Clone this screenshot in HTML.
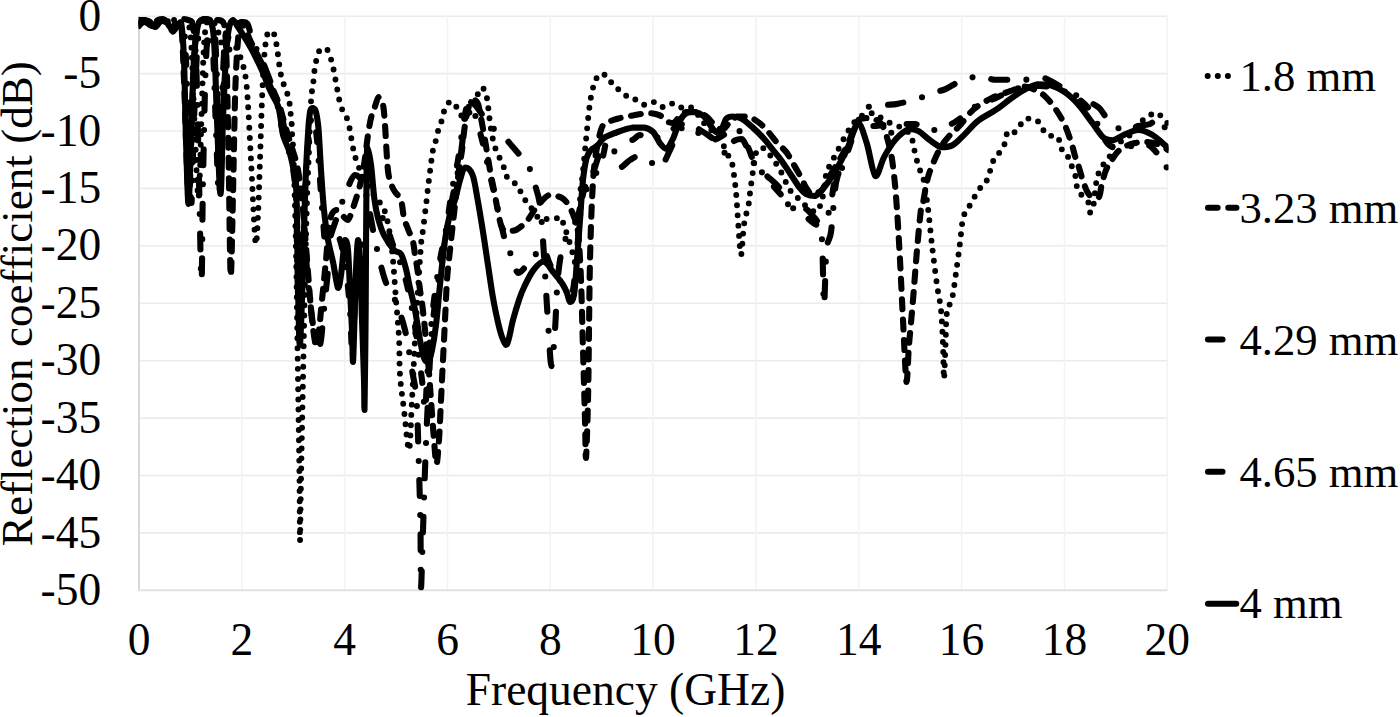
<!DOCTYPE html>
<html><head><meta charset="utf-8"><style>
html,body{margin:0;padding:0;background:#fff;}
svg{display:block;}
text{font-family:"Liberation Serif",serif;font-size:45.5px;fill:#000;}
.lg{font-size:44.7px;}
.yt{font-size:45.1px;}
</style></head><body>
<svg width="1400" height="717" viewBox="0 0 1400 717">
<rect width="1400" height="717" fill="#fff"/>
<line x1="139.0" y1="16.2" x2="1167.3" y2="16.2" stroke="#ebebeb" stroke-width="1.6"/>
<line x1="139.0" y1="73.6" x2="1167.3" y2="73.6" stroke="#ebebeb" stroke-width="1.6"/>
<line x1="139.0" y1="131.0" x2="1167.3" y2="131.0" stroke="#ebebeb" stroke-width="1.6"/>
<line x1="139.0" y1="188.4" x2="1167.3" y2="188.4" stroke="#ebebeb" stroke-width="1.6"/>
<line x1="139.0" y1="245.8" x2="1167.3" y2="245.8" stroke="#ebebeb" stroke-width="1.6"/>
<line x1="139.0" y1="303.2" x2="1167.3" y2="303.2" stroke="#ebebeb" stroke-width="1.6"/>
<line x1="139.0" y1="360.7" x2="1167.3" y2="360.7" stroke="#ebebeb" stroke-width="1.6"/>
<line x1="139.0" y1="418.1" x2="1167.3" y2="418.1" stroke="#ebebeb" stroke-width="1.6"/>
<line x1="139.0" y1="475.5" x2="1167.3" y2="475.5" stroke="#ebebeb" stroke-width="1.6"/>
<line x1="139.0" y1="532.9" x2="1167.3" y2="532.9" stroke="#ebebeb" stroke-width="1.6"/>
<line x1="241.8" y1="16.2" x2="241.8" y2="590.3" stroke="#f3f3f3" stroke-width="1.6"/>
<line x1="344.7" y1="16.2" x2="344.7" y2="590.3" stroke="#f3f3f3" stroke-width="1.6"/>
<line x1="447.5" y1="16.2" x2="447.5" y2="590.3" stroke="#f3f3f3" stroke-width="1.6"/>
<line x1="550.3" y1="16.2" x2="550.3" y2="590.3" stroke="#f3f3f3" stroke-width="1.6"/>
<line x1="653.1" y1="16.2" x2="653.1" y2="590.3" stroke="#f3f3f3" stroke-width="1.6"/>
<line x1="756.0" y1="16.2" x2="756.0" y2="590.3" stroke="#f3f3f3" stroke-width="1.6"/>
<line x1="858.8" y1="16.2" x2="858.8" y2="590.3" stroke="#f3f3f3" stroke-width="1.6"/>
<line x1="961.6" y1="16.2" x2="961.6" y2="590.3" stroke="#f3f3f3" stroke-width="1.6"/>
<line x1="1064.5" y1="16.2" x2="1064.5" y2="590.3" stroke="#f3f3f3" stroke-width="1.6"/>
<line x1="1167.3" y1="16.2" x2="1167.3" y2="590.3" stroke="#f3f3f3" stroke-width="1.6"/>
<line x1="139.0" y1="16.2" x2="139.0" y2="590.3" stroke="#d8d8d8" stroke-width="2"/>
<line x1="138.0" y1="590.3" x2="1167.3" y2="590.3" stroke="#e2e2e2" stroke-width="2"/>
<text x="101.2" y="30.8" text-anchor="end">0</text>
<text x="101.2" y="88.2" text-anchor="end">-5</text>
<text x="101.2" y="145.6" text-anchor="end">-10</text>
<text x="101.2" y="203.0" text-anchor="end">-15</text>
<text x="101.2" y="260.4" text-anchor="end">-20</text>
<text x="101.2" y="317.8" text-anchor="end">-25</text>
<text x="101.2" y="375.3" text-anchor="end">-30</text>
<text x="101.2" y="432.7" text-anchor="end">-35</text>
<text x="101.2" y="490.1" text-anchor="end">-40</text>
<text x="101.2" y="547.5" text-anchor="end">-45</text>
<text x="101.2" y="604.9" text-anchor="end">-50</text>
<text x="139.0" y="655" text-anchor="middle">0</text>
<text x="241.8" y="655" text-anchor="middle">2</text>
<text x="344.7" y="655" text-anchor="middle">4</text>
<text x="447.5" y="655" text-anchor="middle">6</text>
<text x="550.3" y="655" text-anchor="middle">8</text>
<text x="653.1" y="655" text-anchor="middle">10</text>
<text x="756.0" y="655" text-anchor="middle">12</text>
<text x="858.8" y="655" text-anchor="middle">14</text>
<text x="961.6" y="655" text-anchor="middle">16</text>
<text x="1064.5" y="655" text-anchor="middle">18</text>
<text x="1167.3" y="655" text-anchor="middle">20</text>
<text x="625.5" y="705.4" text-anchor="middle">Frequency (GHz)</text>
<text class="yt" transform="translate(31.8,303.7) rotate(-90)" text-anchor="middle">Reflection coefficient (dB)</text>
<text class="lg" x="1239.4" y="90.8">1.8 mm</text>
<text class="lg" x="1239.4" y="222.7">3.23 mm</text>
<text class="lg" x="1239.4" y="354.6">4.29 mm</text>
<text class="lg" x="1239.4" y="486.5">4.65 mm</text>
<text class="lg" x="1239.4" y="618.4">4 mm</text>
<circle cx="1207.7" cy="76.1" r="3"/><circle cx="1217.8" cy="76.1" r="3"/><circle cx="1227.9" cy="76.1" r="3"/>
<line x1="1208" y1="207.7" x2="1217.6" y2="207.7" stroke="#000" stroke-width="6.1" stroke-linecap="round"/>
<line x1="1228.3" y1="207.7" x2="1236.4" y2="207.7" stroke="#000" stroke-width="6.1" stroke-linecap="round"/>
<line x1="1208" y1="339.5" x2="1222.5" y2="339.5" stroke="#000" stroke-width="6.1" stroke-linecap="round"/>
<line x1="1208" y1="471.8" x2="1222.5" y2="471.8" stroke="#000" stroke-width="6.1" stroke-linecap="round"/>
<line x1="1208" y1="603.7" x2="1236.2" y2="603.7" stroke="#000" stroke-width="6.1" stroke-linecap="round"/>
<defs><clipPath id="pc"><rect x="138.6" y="0" width="1029.9" height="600"/></clipPath></defs><g clip-path="url(#pc)">
<path d="M139.0,23.0 C140.2,22.8 143.3,22.0 146.0,22.0 C148.7,22.8 152.5,28.0 155.0,28.0 C157.5,27.8 158.8,22.2 161.0,21.0 C163.2,21.0 166.2,21.0 168.0,21.0 C169.8,22.8 170.5,31.0 172.0,32.0 C173.5,32.0 175.2,28.7 177.0,27.0 C178.8,25.3 181.5,22.0 183.0,22.0 C184.5,27.5 185.0,38.7 186.0,60.0 C187.0,81.3 188.1,126.2 189.0,150.0 C189.9,173.8 190.7,203.0 191.5,203.0 C192.3,198.0 192.9,147.2 194.0,120.0 C195.1,92.8 196.3,56.8 198.0,40.0 C199.7,23.2 202.0,22.2 204.0,19.0 C206.0,19.0 208.5,19.0 210.0,21.0 C211.5,26.2 212.0,31.8 213.0,50.0 C214.0,68.2 215.0,105.8 216.0,130.0 C217.0,154.2 218.0,195.0 219.0,195.0 C220.0,195.0 221.0,152.5 222.0,130.0 C223.0,107.5 223.8,75.8 225.0,60.0 C226.2,44.2 227.5,40.0 229.0,35.0 C230.5,30.0 232.5,31.8 234.0,30.0 C235.5,28.2 236.8,25.3 238.0,24.0 C239.2,22.7 240.1,22.0 241.3,22.0 C242.5,23.3 243.6,28.3 245.0,32.0 C246.4,35.7 248.2,40.2 250.0,44.0 C251.8,47.8 254.0,51.3 256.0,55.0 C258.0,58.7 260.3,62.5 262.0,66.0 C263.7,69.5 264.5,72.3 266.0,76.0 C267.5,79.7 269.3,84.0 271.0,88.0 C272.7,92.0 274.7,96.0 276.0,100.0 C277.3,104.0 278.2,108.0 279.0,112.0 C279.8,116.0 280.2,120.0 281.0,124.0 C281.8,128.0 282.8,132.0 284.0,136.0 C285.2,140.0 286.8,144.0 288.0,148.0 C289.2,152.0 290.1,156.0 291.0,160.0 C291.9,164.0 292.8,167.0 293.5,172.0 C294.2,177.0 294.9,182.0 295.5,190.0 C296.1,198.0 296.6,205.0 297.0,220.0 C297.4,235.0 297.6,262.5 298.0,280.0 C298.4,297.5 298.8,325.0 299.5,325.0 C300.2,321.7 301.1,282.5 302.0,260.0 C302.9,237.5 304.0,209.2 305.0,190.0 C306.0,170.8 307.0,156.7 308.0,145.0 C309.0,133.3 310.0,124.5 311.0,120.0 C312.0,118.0 313.0,118.0 314.0,118.0 C315.0,121.3 316.0,129.7 317.0,140.0 C318.0,150.3 319.0,166.7 320.0,180.0 C321.0,193.3 322.0,209.2 323.0,220.0 C324.0,230.8 324.3,243.3 326.0,245.0 C327.7,245.0 330.7,230.8 333.0,230.0 C335.3,230.0 337.8,233.3 340.0,240.0 C342.2,246.7 344.3,258.3 346.0,270.0 C347.7,281.7 349.0,296.7 350.0,310.0 C351.0,323.3 351.3,348.3 352.0,350.0 C352.7,350.0 353.0,333.3 354.0,320.0 C355.0,306.7 356.3,283.3 358.0,270.0 C359.7,256.7 362.0,249.2 364.0,240.0 C366.0,230.8 367.7,219.7 370.0,215.0 C372.3,212.0 375.3,212.0 378.0,212.0 C380.7,213.7 383.5,219.5 386.0,225.0 C388.5,230.5 390.7,238.8 393.0,245.0 C395.3,251.2 397.7,255.3 400.0,262.0 C402.3,268.7 404.7,275.3 407.0,285.0 C409.3,294.7 412.2,309.2 414.0,320.0 C415.8,330.8 416.7,340.0 418.0,350.0 C419.3,360.0 420.8,370.0 422.0,380.0 C423.2,390.0 424.2,410.0 425.0,410.0 C425.8,410.0 426.2,391.7 427.0,380.0 C427.8,368.3 428.8,353.3 430.0,340.0 C431.2,326.7 432.3,313.3 434.0,300.0 C435.7,286.7 438.0,271.7 440.0,260.0 C442.0,248.3 444.0,241.7 446.0,230.0 C448.0,218.3 450.0,201.7 452.0,190.0 C454.0,178.3 456.0,171.7 458.0,160.0 C460.0,148.3 462.3,129.2 464.0,120.0 C465.7,110.8 466.3,106.3 468.0,105.0 C469.7,105.0 471.7,106.2 474.0,112.0 C476.3,117.8 479.3,129.5 482.0,140.0 C484.7,150.5 487.3,163.3 490.0,175.0 C492.7,186.7 495.5,199.2 498.0,210.0 C500.5,220.8 502.8,232.5 505.0,240.0 C507.2,247.5 508.8,249.5 511.0,255.0 C513.2,260.5 515.3,271.3 518.0,273.0 C520.7,273.0 524.2,268.0 527.0,265.0 C529.8,262.0 532.3,257.8 535.0,255.0 C537.7,252.2 540.7,248.0 543.0,248.0 C545.3,249.2 547.0,257.5 549.0,262.0 C551.0,266.5 552.8,271.5 555.0,275.0 C557.2,278.5 559.8,280.2 562.0,283.0 C564.2,285.8 566.2,290.8 568.0,292.0 C569.8,292.0 571.5,292.0 573.0,290.0 C574.5,283.0 575.5,265.0 577.0,250.0 C578.5,235.0 580.2,211.7 582.0,200.0 C583.8,188.3 585.8,184.2 588.0,180.0 C590.2,175.8 592.7,178.3 595.0,175.0 C597.3,171.7 599.8,166.7 602.0,160.0 C604.2,153.3 605.8,139.5 608.0,135.0 C610.2,133.0 612.3,133.0 615.0,133.0 C617.7,133.3 621.2,135.8 624.0,137.0 C626.8,138.2 629.3,140.0 632.0,140.0 C634.7,139.7 637.3,135.0 640.0,135.0 C642.7,135.0 645.3,139.5 648.0,140.0 C650.7,140.0 653.2,138.8 656.0,138.0 C658.8,137.2 662.3,136.3 665.0,135.0 C667.7,133.7 669.5,131.8 672.0,130.0 C674.5,128.2 677.0,124.3 680.0,124.0 C683.0,124.0 686.7,126.3 690.0,128.0 C693.3,129.7 696.3,132.0 700.0,134.0 C703.7,136.0 708.3,139.7 712.0,140.0 C715.7,140.0 718.2,138.0 722.0,136.0 C725.8,134.0 731.7,128.2 735.0,128.0 C738.3,128.0 739.8,131.8 742.0,135.0 C744.2,138.2 746.0,142.5 748.0,147.0 C750.0,151.5 752.0,158.2 754.0,162.0 C756.0,165.8 757.3,166.7 760.0,170.0 C762.7,173.3 766.2,177.5 770.0,182.0 C773.8,186.5 778.8,192.3 783.0,197.0 C787.2,201.7 791.3,206.8 795.0,210.0 C798.7,213.2 802.2,214.0 805.0,216.0 C807.8,218.0 809.8,220.5 812.0,222.0 C814.2,223.5 815.8,225.0 818.0,225.0 C820.2,224.7 823.0,222.8 825.0,220.0 C827.0,217.2 828.3,214.7 830.0,208.0 C831.7,201.3 833.0,186.7 835.0,180.0 C837.0,173.3 839.5,173.8 842.0,168.0 C844.5,162.2 847.3,152.8 850.0,145.0 C852.7,137.2 855.3,124.5 858.0,121.0 C860.7,121.0 863.3,123.2 866.0,124.0 C868.7,124.8 871.0,125.8 874.0,126.0 C877.0,126.0 881.5,125.0 884.0,125.0 C886.5,126.8 887.5,136.2 889.0,137.0 C890.5,137.0 890.7,132.2 893.0,130.0 C895.3,127.8 899.3,125.0 903.0,124.0 C906.7,124.0 911.3,124.0 915.0,124.0 C918.7,124.7 921.7,127.0 925.0,128.0 C928.3,129.0 931.7,130.0 935.0,130.0 C938.3,129.7 941.7,127.3 945.0,126.0 C948.3,124.7 950.7,124.7 955.0,122.0 C959.3,119.3 967.2,112.8 971.0,110.0 C974.8,107.2 973.8,107.0 978.0,105.0 C982.2,103.0 990.7,100.3 996.0,98.0 C1001.3,95.7 1005.3,92.8 1010.0,91.0 C1014.7,89.2 1019.0,87.8 1024.0,87.0 C1029.0,86.2 1034.8,86.0 1040.0,86.0 C1045.2,86.2 1050.0,86.7 1055.0,88.0 C1060.0,89.3 1065.8,92.0 1070.0,94.0 C1074.2,96.0 1076.7,97.3 1080.0,100.0 C1083.3,102.7 1087.0,105.8 1090.0,110.0 C1093.0,114.2 1095.5,120.0 1098.0,125.0 C1100.5,130.0 1102.7,136.3 1105.0,140.0 C1107.3,143.7 1109.2,145.7 1112.0,147.0 C1114.8,148.0 1118.7,148.0 1122.0,148.0 C1125.3,147.8 1128.7,146.7 1132.0,146.0 C1135.3,145.3 1139.0,144.0 1142.0,144.0 C1145.0,144.0 1147.7,144.7 1150.0,146.0 C1152.3,147.3 1154.0,150.0 1156.0,152.0 C1158.0,154.0 1160.3,155.8 1162.0,158.0 C1163.7,160.2 1165.0,162.0 1166.0,165.0 C1167.0,168.0 1167.7,174.2 1168.0,176.0" fill="none" stroke="#000" stroke-width="6.1" stroke-dasharray="9.9 18.7 0 18.7" stroke-linecap="round" stroke-linejoin="round"/>
<path d="M139.0,26.0 C139.8,25.2 141.8,21.0 144.0,21.0 C146.2,21.0 149.8,25.7 152.0,26.0 C154.2,26.0 155.3,24.2 157.0,23.0 C158.7,21.8 159.8,19.2 162.0,19.0 C164.2,19.0 167.8,21.8 170.0,22.0 C172.2,22.0 173.0,20.5 175.0,20.0 C177.0,19.5 179.8,19.0 182.0,19.0 C184.2,19.0 186.3,19.5 188.0,20.0 C189.7,20.5 190.7,20.0 192.0,22.0 C193.3,28.7 194.8,33.7 196.0,60.0 C197.2,86.3 198.1,143.2 199.0,180.0 C199.9,216.8 200.8,281.0 201.5,281.0 C202.2,281.0 202.2,216.8 203.0,180.0 C203.8,143.2 204.8,86.3 206.0,60.0 C207.2,33.7 208.7,28.0 210.0,22.0 C211.3,22.0 212.8,22.0 214.0,24.0 C215.2,33.7 216.1,52.3 217.0,80.0 C217.9,107.7 218.7,186.7 219.5,190.0 C220.3,190.0 221.1,125.0 222.0,100.0 C222.9,75.0 223.7,52.5 225.0,40.0 C226.3,27.5 228.0,27.7 230.0,25.0 C232.0,24.0 234.8,24.5 237.0,24.0 C239.2,23.5 241.2,22.0 243.0,22.0 C244.8,22.0 246.3,22.0 247.6,24.0 C248.9,26.2 249.6,31.0 251.0,35.0 C252.4,39.0 254.3,44.2 256.0,48.0 C257.7,51.8 259.3,54.3 261.0,58.0 C262.7,61.7 264.2,65.3 266.0,70.0 C267.8,74.7 270.2,81.0 272.0,86.0 C273.8,91.0 275.7,96.0 277.0,100.0 C278.3,104.0 279.0,106.3 280.0,110.0 C281.0,113.7 282.2,118.3 283.0,122.0 C283.8,125.7 284.0,128.0 285.0,132.0 C286.0,136.0 287.8,141.7 289.0,146.0 C290.2,150.3 291.5,153.7 292.5,158.0 C293.5,162.3 294.3,165.8 295.0,172.0 C295.7,178.2 296.2,182.0 296.5,195.0 C296.8,208.0 296.7,230.8 297.0,250.0 C297.3,269.2 298.1,295.8 298.5,310.0 C298.9,324.2 299.1,335.0 299.5,335.0 C299.9,333.3 300.4,312.5 301.0,300.0 C301.6,287.5 302.3,270.0 303.0,260.0 C303.7,250.0 304.3,240.0 305.0,240.0 C305.7,241.7 306.2,260.0 307.0,270.0 C307.8,280.0 309.0,290.8 310.0,300.0 C311.0,309.2 312.0,317.0 313.0,325.0 C314.0,333.0 315.2,343.5 316.0,348.0 C316.8,352.0 317.2,352.0 318.0,352.0 C318.8,350.7 320.2,345.3 321.0,340.0 C321.8,334.7 322.2,328.3 323.0,320.0 C323.8,311.7 325.2,298.3 326.0,290.0 C326.8,281.7 327.3,278.3 328.0,270.0 C328.7,261.7 328.7,248.3 330.0,240.0 C331.3,231.7 333.5,227.5 336.0,220.0 C338.5,212.5 341.8,202.5 345.0,195.0 C348.2,187.5 351.7,175.8 355.0,175.0 C358.3,175.0 361.7,179.2 365.0,190.0 C368.3,200.8 371.7,225.0 375.0,240.0 C378.3,255.0 381.7,270.0 385.0,280.0 C388.3,290.0 391.7,291.7 395.0,300.0 C398.3,308.3 402.2,318.3 405.0,330.0 C407.8,341.7 410.1,358.3 412.0,370.0 C413.9,381.7 415.3,383.3 416.5,400.0 C417.7,416.7 418.3,448.3 419.0,470.0 C419.7,491.7 420.2,510.3 420.5,530.0 C420.8,549.7 420.6,588.0 421.0,588.0 C421.4,588.0 422.3,549.7 423.0,530.0 C423.7,510.3 424.2,491.7 425.0,470.0 C425.8,448.3 426.8,423.3 428.0,400.0 C429.2,376.7 430.0,351.7 432.0,330.0 C434.0,308.3 437.5,286.7 440.0,270.0 C442.5,253.3 445.0,241.7 447.0,230.0 C449.0,218.3 449.8,211.7 452.0,200.0 C454.2,188.3 457.7,174.7 460.0,160.0 C462.3,145.3 464.3,121.7 466.0,112.0 C467.7,102.3 468.3,103.0 470.0,102.0 C471.7,102.0 473.3,103.0 476.0,106.0 C478.7,109.0 482.8,116.0 486.0,120.0 C489.2,124.0 491.8,127.0 495.0,130.0 C498.2,133.0 502.2,135.3 505.0,138.0 C507.8,140.7 509.8,143.5 512.0,146.0 C514.2,148.5 515.3,149.8 518.0,153.0 C520.7,156.2 525.2,159.7 528.0,165.0 C530.8,170.3 533.0,178.3 535.0,185.0 C537.0,191.7 538.7,195.8 540.0,205.0 C541.3,214.2 542.0,225.8 543.0,240.0 C544.0,254.2 545.1,275.0 546.0,290.0 C546.9,305.0 547.6,317.3 548.5,330.0 C549.4,342.7 550.4,366.0 551.5,366.0 C552.6,366.0 554.1,342.7 555.0,330.0 C555.9,317.3 556.2,301.7 557.0,290.0 C557.8,278.3 558.7,268.3 560.0,260.0 C561.3,251.7 563.0,245.0 565.0,240.0 C567.0,235.0 569.8,234.2 572.0,230.0 C574.2,225.8 576.2,220.0 578.0,215.0 C579.8,210.0 581.3,205.0 583.0,200.0 C584.7,195.0 586.2,190.0 588.0,185.0 C589.8,180.0 591.8,175.5 594.0,170.0 C596.2,164.5 597.8,155.4 601.0,152.0 C604.2,149.8 610.1,149.8 613.2,149.8 C616.4,152.4 617.1,165.8 619.9,167.5 C622.7,167.5 627.0,161.8 630.0,160.0 C633.0,158.2 635.2,156.4 637.6,156.4 C640.0,156.6 641.9,159.8 644.3,160.9 C646.7,162.0 649.2,161.9 652.0,163.0 C654.8,164.1 657.9,167.5 660.9,167.5 C663.9,165.3 666.8,156.2 670.0,150.0 C673.2,143.8 676.7,134.2 680.0,130.0 C683.3,125.8 686.7,125.0 690.0,125.0 C693.3,125.0 696.3,127.8 700.0,130.0 C703.7,132.2 708.7,135.5 712.0,138.0 C715.3,140.5 717.5,142.2 720.0,145.0 C722.5,147.8 724.7,155.0 727.0,155.0 C729.3,154.3 731.5,143.7 734.0,141.0 C736.5,139.0 739.7,139.0 742.0,139.0 C744.3,140.5 745.8,145.7 748.0,150.0 C750.2,154.3 751.8,160.7 755.0,165.0 C758.2,169.3 762.9,172.2 767.0,176.0 C771.1,179.8 776.2,183.5 779.5,188.0 C782.8,192.5 783.2,199.5 786.6,203.0 C790.0,206.5 796.8,208.0 800.0,209.0 C803.2,209.0 804.0,209.0 806.0,209.0 C808.0,210.0 810.0,212.7 812.0,215.0 C814.0,217.3 816.3,218.8 818.0,223.0 C819.7,227.2 821.0,226.3 822.0,240.0 C823.0,253.7 823.2,303.3 824.0,305.0 C824.8,305.0 825.3,262.2 826.5,250.0 C827.7,237.8 829.6,242.0 831.0,232.0 C832.4,222.0 833.8,199.5 835.0,190.0 C836.2,180.5 835.8,182.5 838.0,175.0 C840.2,167.5 844.7,153.8 848.0,145.0 C851.3,136.2 854.3,128.5 858.0,122.0 C861.7,115.5 865.2,108.8 870.0,106.0 C874.8,104.9 881.9,105.3 886.6,104.9 C891.3,104.5 893.0,104.7 898.0,103.7 C903.0,102.8 910.2,101.1 916.3,99.2 C922.4,97.3 929.6,94.0 934.6,92.3 C939.6,90.6 941.2,91.0 946.0,88.9 C950.8,86.8 957.1,81.8 963.2,79.7 C969.3,77.6 977.6,76.3 982.7,76.3 C987.8,76.3 989.2,79.1 994.0,79.7 C998.8,79.7 1006.0,79.7 1011.3,79.7 C1016.6,79.7 1020.9,79.7 1026.0,79.7 C1031.1,79.3 1037.0,77.4 1042.0,77.4 C1047.0,78.1 1051.3,81.6 1056.0,84.0 C1060.7,86.4 1065.2,89.3 1070.0,92.0 C1074.8,94.7 1080.2,97.4 1085.0,100.0 C1089.8,102.6 1095.2,104.5 1099.0,107.8 C1102.8,111.1 1104.8,116.6 1108.0,120.0 C1111.2,123.4 1114.7,126.3 1118.0,128.0 C1121.3,129.7 1124.7,130.0 1128.0,130.0 C1131.3,129.7 1134.3,127.0 1138.0,126.0 C1141.7,125.0 1146.7,125.3 1150.0,124.0 C1153.3,122.7 1155.8,118.0 1158.0,118.0 C1160.2,118.2 1161.3,122.7 1163.0,125.0 C1164.7,127.3 1167.2,130.8 1168.0,132.0" fill="none" stroke="#000" stroke-width="6.1" stroke-dasharray="15.9 19.3 0 19.3" stroke-linecap="round" stroke-linejoin="round"/>
<path d="M139.0,22.0 C140.0,21.5 142.5,19.0 145.0,19.0 C147.5,19.5 151.5,25.0 154.0,25.0 C156.5,25.0 158.0,19.7 160.0,19.0 C162.0,19.0 164.0,20.8 166.0,21.0 C168.0,21.0 170.0,20.2 172.0,20.0 C174.0,20.0 176.0,20.0 178.0,20.0 C180.0,19.8 182.3,19.0 184.0,19.0 C185.7,19.7 186.8,20.5 188.0,24.0 C189.2,27.5 190.0,25.7 191.0,40.0 C192.0,54.3 193.0,86.7 194.0,110.0 C195.0,133.3 196.2,165.3 197.0,180.0 C197.8,194.7 198.0,198.0 198.5,198.0 C199.0,196.3 199.4,186.3 200.0,170.0 C200.6,153.7 201.3,120.8 202.0,100.0 C202.7,79.2 203.2,58.0 204.0,45.0 C204.8,32.0 205.7,26.2 207.0,22.0 C208.3,20.0 210.3,20.0 212.0,20.0 C213.7,21.0 215.5,24.3 217.0,28.0 C218.5,31.7 219.7,37.5 221.0,42.0 C222.3,46.5 223.7,53.7 225.0,55.0 C226.3,55.0 227.5,51.7 229.0,50.0 C230.5,48.3 232.5,45.0 234.0,45.0 C235.5,45.3 236.5,48.7 238.0,52.0 C239.5,55.3 241.5,58.7 243.0,65.0 C244.5,71.3 245.7,74.2 247.0,90.0 C248.3,105.8 249.8,138.3 251.0,160.0 C252.2,181.7 253.2,206.0 254.0,220.0 C254.8,234.0 255.3,244.0 256.0,244.0 C256.7,243.2 257.3,229.0 258.0,215.0 C258.7,201.0 259.3,179.2 260.0,160.0 C260.7,140.8 261.3,116.7 262.0,100.0 C262.7,83.3 263.3,69.8 264.0,60.0 C264.7,50.2 265.2,45.8 266.0,41.0 C266.8,36.2 267.6,32.0 269.0,31.0 C270.4,31.0 273.4,32.8 274.6,35.0 C275.8,37.2 275.8,40.7 276.4,44.0 C277.0,47.3 277.5,51.5 278.0,55.0 C278.5,58.5 278.8,61.7 279.3,65.0 C279.8,68.3 280.3,71.8 281.0,75.0 C281.7,78.2 282.5,80.8 283.6,84.0 C284.7,87.2 286.4,90.7 287.4,94.0 C288.4,97.3 289.1,100.7 289.7,104.0 C290.2,107.3 290.4,110.7 290.7,114.0 C291.0,117.3 291.5,120.7 291.7,124.0 C291.9,127.3 291.9,130.7 292.1,134.0 C292.3,137.3 292.6,138.0 292.9,144.0 C293.2,150.0 293.5,152.3 294.0,170.0 C294.5,187.7 295.3,215.0 296.0,250.0 C296.7,285.0 297.4,341.7 298.0,380.0 C298.6,418.3 299.2,453.2 299.5,480.0 C299.8,506.8 299.8,541.0 300.0,541.0 C300.2,541.0 300.5,506.8 301.0,480.0 C301.5,453.2 302.3,413.3 303.0,380.0 C303.7,346.7 304.3,310.0 305.0,280.0 C305.7,250.0 306.3,221.7 307.0,200.0 C307.7,178.3 308.4,165.0 309.0,150.0 C309.6,135.0 310.0,120.0 310.5,110.0 C311.0,100.0 311.6,95.0 312.1,90.0 C312.6,85.0 313.2,83.5 313.6,80.0 C314.0,76.5 314.2,72.3 314.7,69.0 C315.2,65.7 315.6,63.2 316.4,60.0 C317.2,56.8 318.5,51.9 319.7,50.0 C320.9,48.5 322.3,48.6 323.5,48.5 C324.7,48.5 325.9,48.5 327.1,49.3 C328.3,51.0 329.8,55.7 330.9,58.9 C331.9,62.1 332.7,65.3 333.4,68.6 C334.1,71.9 334.7,75.3 335.3,78.6 C335.9,81.9 336.5,85.3 337.1,88.6 C337.7,91.9 338.1,95.0 338.9,98.3 C339.7,101.6 340.4,105.2 341.7,108.3 C342.9,111.4 345.1,113.9 346.4,117.0 C347.7,120.1 348.5,123.7 349.3,127.0 C350.1,130.3 350.5,133.7 351.1,137.0 C351.7,140.3 352.2,143.8 352.9,147.0 C353.5,150.2 353.5,151.7 355.0,156.4 C356.5,161.1 359.5,169.4 362.0,175.0 C364.5,180.6 367.3,185.8 370.0,190.0 C372.7,194.2 375.3,195.8 378.0,200.0 C380.7,204.2 383.7,206.7 386.0,215.0 C388.3,223.3 390.3,235.8 392.0,250.0 C393.7,264.2 394.8,285.3 396.0,300.0 C397.2,314.7 398.3,325.5 399.0,338.0 C399.7,350.5 399.2,363.0 400.0,375.0 C400.8,387.0 402.5,397.5 404.0,410.0 C405.5,422.5 407.7,450.0 409.0,450.0 C410.3,448.3 411.0,418.3 412.0,400.0 C413.0,381.7 414.0,358.3 415.0,340.0 C416.0,321.7 417.0,305.8 418.0,290.0 C419.0,274.2 420.2,255.0 421.0,245.0 C421.8,235.0 422.2,236.3 423.0,230.0 C423.8,223.7 424.9,214.3 425.8,207.0 C426.7,199.7 427.4,192.7 428.2,186.0 C429.0,179.3 429.8,173.0 430.6,167.0 C431.4,161.0 432.1,154.5 433.0,150.0 C433.9,145.5 435.0,143.7 436.0,140.0 C437.0,136.3 437.7,131.6 438.8,128.0 C439.9,124.4 441.5,121.8 442.5,118.5 C443.5,115.2 443.6,111.3 445.0,108.5 C446.4,105.7 448.8,101.4 450.9,101.4 C453.0,101.4 455.6,105.9 457.6,108.5 C459.6,111.1 460.9,116.4 463.0,117.0 C465.1,117.0 468.0,114.3 470.0,112.0 C472.0,109.7 473.3,107.0 475.0,103.0 C476.7,99.0 478.5,90.1 480.2,88.0 C481.9,88.0 484.0,88.4 485.2,90.5 C486.4,92.6 486.7,97.2 487.3,100.5 C487.9,103.8 488.2,107.2 488.6,110.6 C489.0,113.9 489.2,116.5 489.8,120.6 C490.4,124.7 491.0,130.1 492.0,135.0 C493.0,139.9 494.2,145.0 496.0,150.0 C497.8,155.0 501.2,160.5 503.0,165.0 C504.8,169.5 505.3,174.2 507.0,177.0 C508.7,179.8 511.2,180.5 513.0,182.0 C514.8,183.5 516.3,183.5 518.0,186.0 C519.7,188.5 521.0,193.7 523.0,197.0 C525.0,200.3 527.2,202.3 530.0,206.0 C532.8,209.7 536.1,216.8 540.0,219.0 C543.9,219.0 550.2,219.0 553.6,219.0 C557.0,218.7 558.4,217.0 560.3,217.0 C562.2,218.5 563.3,224.0 564.8,228.0 C566.3,232.0 567.7,236.2 569.2,241.0 C570.7,245.8 572.6,252.8 573.7,257.0 C574.8,261.2 575.3,266.0 576.0,266.0 C576.7,264.8 577.3,262.3 578.0,250.0 C578.7,237.7 579.6,204.5 580.4,192.0 C581.2,179.5 581.7,183.7 582.6,175.0 C583.5,166.3 584.8,152.0 586.0,140.0 C587.2,128.0 588.6,112.5 590.0,103.0 C591.4,93.5 592.7,88.1 594.4,83.3 C596.1,78.5 597.8,75.1 600.0,74.0 C602.2,74.0 605.5,74.7 607.7,76.6 C609.9,78.5 611.0,83.1 613.2,85.5 C615.4,87.9 618.4,89.0 621.0,91.0 C623.6,93.0 626.1,96.2 628.7,97.7 C631.3,99.2 633.8,98.7 636.5,99.9 C639.2,101.1 642.1,104.5 645.0,104.9 C647.9,104.9 651.0,102.1 653.9,102.1 C656.8,102.4 659.4,106.8 662.3,107.0 C665.2,107.0 668.5,103.5 671.4,103.5 C674.3,103.6 676.9,107.2 679.7,107.7 C682.5,107.7 685.6,106.3 688.1,106.3 C690.6,106.8 692.4,108.2 695.0,111.0 C697.6,113.8 701.0,119.5 704.0,123.0 C707.0,126.5 710.0,128.7 713.0,132.0 C716.0,135.3 719.4,139.0 722.0,143.0 C724.6,147.0 726.8,152.7 728.5,156.0 C730.2,159.3 731.1,159.8 732.0,163.0 C732.9,166.2 733.3,170.2 734.0,175.0 C734.7,179.8 735.3,184.5 736.0,192.0 C736.7,199.5 737.2,209.5 738.0,220.0 C738.8,230.5 740.0,254.2 741.0,255.0 C742.0,255.0 742.8,233.3 744.0,225.0 C745.2,216.7 747.6,209.7 748.5,205.0 C749.4,200.3 749.1,200.0 749.5,197.0 C749.9,194.0 750.1,192.0 750.8,187.0 C751.5,182.0 752.6,173.2 753.6,167.0 C754.6,160.8 755.4,153.2 757.0,150.0 C758.6,148.0 760.8,148.0 763.0,148.0 C765.2,148.8 767.2,151.3 770.0,155.0 C772.8,158.7 776.7,164.2 780.0,170.0 C783.3,175.8 786.7,185.0 790.0,190.0 C793.3,195.0 797.0,197.0 800.0,200.0 C803.0,203.0 805.3,206.0 808.0,208.0 C810.7,210.0 813.7,212.0 816.0,212.0 C818.3,210.7 820.3,206.2 822.0,200.0 C823.7,193.8 824.7,180.8 826.0,175.0 C827.3,169.2 828.2,168.8 830.0,165.0 C831.8,161.2 834.2,157.3 837.0,152.0 C839.8,146.7 843.7,138.5 847.0,133.0 C850.3,127.5 854.2,122.0 857.0,119.0 C859.8,116.0 861.7,116.0 864.0,115.0 C866.3,114.0 868.3,113.0 870.6,113.0 C872.9,113.2 875.1,114.5 878.0,116.0 C880.9,117.5 884.3,120.2 888.0,122.0 C891.7,123.8 896.7,125.3 900.0,127.0 C903.3,128.7 906.0,130.2 908.0,132.0 C910.0,133.8 910.8,135.3 911.8,138.0 C912.8,140.7 912.9,143.6 914.0,148.4 C915.1,153.2 917.1,161.7 918.6,166.6 C920.1,171.5 922.1,173.8 923.2,178.0 C924.4,182.2 924.7,186.8 925.5,191.8 C926.3,196.8 926.9,199.1 928.0,208.0 C929.1,216.9 930.5,232.2 932.0,245.0 C933.5,257.8 935.5,274.2 937.0,285.0 C938.5,295.8 940.0,300.0 941.0,310.0 C942.0,320.0 942.5,333.5 943.0,345.0 C943.5,356.5 943.6,379.0 944.0,379.0 C944.4,379.0 945.0,356.2 945.5,345.0 C946.0,333.8 945.9,319.7 947.0,312.0 C948.1,304.3 950.5,305.5 952.0,299.0 C953.5,292.5 954.7,282.3 956.0,273.0 C957.3,263.7 958.8,252.3 960.0,243.0 C961.2,233.7 961.7,223.3 963.4,217.0 C965.1,210.7 967.5,209.5 970.0,205.0 C972.5,200.5 975.9,194.2 978.7,190.0 C981.5,185.8 984.5,185.0 987.0,180.0 C989.5,175.0 991.3,164.9 993.6,160.0 C995.9,155.1 999.0,153.7 1001.0,150.6 C1003.0,147.5 1004.4,144.7 1005.5,141.5 C1006.6,138.3 1006.3,132.7 1007.8,131.2 C1009.3,131.2 1011.7,132.3 1014.7,132.3 C1017.7,130.2 1022.2,120.5 1026.0,118.6 C1029.8,118.6 1034.1,118.6 1037.6,121.0 C1041.0,123.7 1043.3,131.9 1046.7,134.6 C1050.1,137.0 1055.8,134.8 1058.0,137.0 C1060.0,139.2 1058.7,145.0 1060.0,147.5 C1061.3,150.0 1064.0,149.6 1065.7,152.0 C1067.4,154.4 1068.4,158.1 1070.0,162.0 C1071.6,165.9 1074.1,171.4 1075.2,175.2 C1076.3,179.0 1075.7,181.7 1076.4,184.6 C1077.1,187.5 1077.6,189.8 1079.6,192.7 C1081.6,195.6 1086.5,198.9 1088.3,202.2 C1090.1,205.5 1089.3,212.1 1090.2,212.6 C1091.1,212.6 1092.5,209.9 1093.4,205.3 C1094.4,200.7 1095.2,190.2 1095.9,185.2 C1096.6,180.2 1096.6,178.6 1097.8,175.2 C1099.0,171.8 1101.0,168.2 1103.0,165.0 C1105.0,161.8 1108.1,159.5 1109.7,156.3 C1111.3,153.1 1111.0,148.4 1112.7,146.0 C1114.4,143.6 1117.1,143.8 1120.0,142.0 C1122.9,140.2 1127.0,137.9 1130.0,135.0 C1133.0,132.1 1135.3,127.2 1138.0,124.4 C1140.7,121.6 1143.1,120.0 1146.0,118.0 C1148.9,116.0 1153.1,113.0 1155.6,112.7 C1158.1,112.7 1159.4,114.7 1161.0,116.0 C1162.6,117.3 1164.2,119.2 1165.4,120.5 C1166.6,121.8 1167.6,123.4 1168.0,124.0" fill="none" stroke="#000" stroke-width="5.9" stroke-dasharray="0 10.2" stroke-linecap="round" stroke-linejoin="round"/>
<path d="M139.0,20.0 C140.0,20.0 142.7,20.0 145.0,20.0 C147.3,20.7 150.8,24.0 153.0,24.0 C155.2,24.0 156.3,20.8 158.0,20.0 C159.7,19.2 160.8,19.0 163.0,19.0 C165.2,20.7 169.0,29.2 171.0,30.0 C173.0,30.0 173.3,25.0 175.0,24.0 C176.7,24.0 179.5,24.0 181.0,24.0 C182.5,33.3 183.0,55.7 184.0,80.0 C185.0,104.3 186.2,150.0 187.0,170.0 C187.8,190.0 188.3,200.0 189.0,200.0 C189.7,196.7 190.2,173.3 191.0,150.0 C191.8,126.7 192.8,80.8 194.0,60.0 C195.2,39.2 196.2,31.8 198.0,25.0 C199.8,19.0 202.8,19.5 205.0,19.0 C207.2,19.0 208.8,21.8 211.0,22.0 C213.2,22.0 215.8,20.0 218.0,20.0 C220.2,20.3 222.6,20.0 224.0,24.0 C225.4,30.7 225.8,39.0 226.5,60.0 C227.2,81.0 227.9,120.0 228.5,150.0 C229.1,180.0 229.4,219.0 229.8,240.0 C230.2,261.0 230.4,276.0 230.8,276.0 C231.2,276.0 231.6,257.7 232.0,240.0 C232.4,222.3 233.0,193.3 233.5,170.0 C234.0,146.7 234.5,118.0 235.0,100.0 C235.5,82.0 235.9,72.8 236.5,62.0 C237.1,51.2 237.8,41.7 238.5,35.0 C239.2,28.3 239.9,23.2 241.0,22.0 C242.1,22.0 243.5,25.0 245.0,28.0 C246.5,31.0 248.2,36.0 250.0,40.0 C251.8,44.0 254.0,48.0 256.0,52.0 C258.0,56.0 260.0,59.7 262.0,64.0 C264.0,68.3 266.0,73.3 268.0,78.0 C270.0,82.7 272.2,87.7 274.0,92.0 C275.8,96.3 277.5,99.7 279.0,104.0 C280.5,108.3 281.7,113.3 283.0,118.0 C284.3,122.7 285.5,127.0 287.0,132.0 C288.5,137.0 290.2,141.7 292.0,148.0 C293.8,154.3 296.2,159.7 298.0,170.0 C299.8,180.3 301.2,190.8 303.0,210.0 C304.8,229.2 307.5,266.7 309.0,285.0 C310.5,303.3 310.8,310.0 312.0,320.0 C313.2,330.0 314.8,343.3 316.0,345.0 C317.2,345.0 318.0,337.5 319.0,330.0 C320.0,322.5 320.8,311.7 322.0,300.0 C323.2,288.3 324.7,273.3 326.0,260.0 C327.3,246.7 328.3,228.3 330.0,220.0 C331.7,211.7 334.0,210.8 336.0,210.0 C338.0,210.0 340.0,213.3 342.0,215.0 C344.0,216.7 346.0,220.0 348.0,220.0 C350.0,218.3 352.0,210.8 354.0,205.0 C356.0,199.2 358.3,191.7 360.0,185.0 C361.7,178.3 362.7,173.3 364.0,165.0 C365.3,156.7 366.8,142.8 368.0,135.0 C369.2,127.2 369.9,122.4 371.0,118.0 C372.1,113.6 373.0,112.1 374.3,108.6 C375.6,105.1 377.2,97.7 378.6,97.1 C380.1,97.1 381.9,100.3 383.0,105.0 C384.1,109.7 384.4,117.2 385.0,125.0 C385.6,132.8 386.0,143.6 386.6,152.0 C387.2,160.4 387.5,169.3 388.7,175.6 C389.9,181.9 391.8,185.9 393.8,190.0 C395.8,194.1 399.2,195.3 400.9,200.0 C402.6,204.7 402.8,213.2 404.0,218.0 C405.2,222.8 406.5,225.0 408.0,229.0 C409.5,233.0 411.8,237.7 413.0,242.0 C414.2,246.3 414.2,250.3 415.0,255.0 C415.8,259.7 416.7,264.2 417.5,270.0 C418.3,275.8 419.2,284.2 420.0,290.0 C420.8,295.8 421.5,298.3 422.3,305.0 C423.1,311.7 424.1,320.8 425.0,330.0 C425.9,339.2 427.0,348.3 428.0,360.0 C429.0,371.7 430.0,386.7 431.0,400.0 C432.0,413.3 433.1,429.3 434.0,440.0 C434.9,450.7 435.7,464.0 436.5,464.0 C437.3,464.0 438.2,450.7 439.0,440.0 C439.8,429.3 440.3,413.3 441.0,400.0 C441.7,386.7 442.3,373.3 443.0,360.0 C443.7,346.7 444.3,333.3 445.0,320.0 C445.7,306.7 446.2,291.7 447.0,280.0 C447.8,268.3 448.7,262.5 450.0,250.0 C451.3,237.5 453.5,218.3 455.0,205.0 C456.5,191.7 457.8,179.2 459.0,170.0 C460.2,160.8 461.0,157.5 462.0,150.0 C463.0,142.5 463.8,132.3 465.0,125.0 C466.2,117.7 467.5,110.2 469.0,106.0 C470.5,101.8 472.5,100.3 474.0,100.0 C475.5,100.0 476.8,101.0 478.0,104.0 C479.2,107.0 479.8,112.0 481.0,118.0 C482.2,124.0 483.5,131.3 485.0,140.0 C486.5,148.7 488.5,161.7 490.0,170.0 C491.5,178.3 492.7,183.3 494.0,190.0 C495.3,196.7 496.4,203.7 497.7,210.0 C499.0,216.3 500.3,224.5 502.0,228.0 C503.7,231.0 505.7,230.7 508.0,231.0 C510.3,231.0 512.8,231.0 516.0,230.0 C519.2,228.3 523.7,224.7 527.0,221.0 C530.3,217.3 532.3,212.3 536.0,208.0 C539.7,203.7 544.7,196.7 549.0,195.0 C553.3,195.0 558.7,196.2 562.0,198.0 C565.3,199.8 567.0,202.8 569.0,206.0 C571.0,209.2 572.5,212.7 574.0,217.0 C575.5,221.3 576.8,221.5 578.0,232.0 C579.2,242.5 580.2,260.3 581.0,280.0 C581.8,299.7 582.3,326.7 583.0,350.0 C583.7,373.3 584.5,402.0 585.0,420.0 C585.5,438.0 585.5,458.0 586.0,458.0 C586.5,454.7 587.5,421.3 588.0,400.0 C588.5,378.7 588.7,353.3 589.0,330.0 C589.3,306.7 589.5,281.7 590.0,260.0 C590.5,238.3 591.2,216.7 592.0,200.0 C592.8,183.3 593.5,171.7 595.0,160.0 C596.5,148.3 599.1,136.2 601.0,130.0 C602.9,123.8 603.8,124.9 606.6,123.0 C609.4,121.1 613.2,120.0 617.6,118.7 C622.0,117.4 628.0,116.3 633.2,115.4 C638.4,114.5 644.3,113.2 648.7,113.2 C653.1,113.2 656.8,114.1 659.8,115.4 C662.8,116.7 664.2,119.7 666.4,121.0 C668.6,122.3 670.8,123.2 673.0,123.2 C675.2,122.5 677.5,118.4 679.7,116.5 C681.9,114.6 683.4,112.8 686.4,112.0 C689.4,112.0 694.2,112.0 697.5,112.0 C700.8,112.8 703.7,114.6 706.3,116.5 C708.9,118.4 710.4,121.0 713.0,123.2 C715.6,125.4 719.1,129.8 721.9,129.8 C724.7,129.6 727.4,124.2 730.0,122.0 C732.6,119.8 734.3,117.4 737.4,116.5 C740.5,116.5 744.8,116.5 748.5,116.5 C752.2,117.6 756.3,120.6 759.6,123.2 C762.9,125.8 765.5,128.7 768.4,132.0 C771.3,135.3 774.3,139.7 777.3,143.0 C780.3,146.3 783.6,148.7 786.2,152.0 C788.8,155.3 790.2,158.6 792.8,163.0 C795.4,167.4 799.5,174.5 801.7,178.6 C803.9,182.7 804.3,185.0 806.0,187.5 C807.7,190.0 809.3,193.4 812.0,193.8 C814.7,193.8 819.1,192.9 822.0,190.0 C824.9,187.1 825.8,182.9 829.6,176.2 C833.4,169.5 840.1,159.4 845.0,150.0 C849.9,140.6 854.7,124.8 858.9,119.5 C863.1,118.0 866.1,118.0 870.0,118.0 C873.9,118.9 878.7,119.9 882.0,125.0 C885.3,130.1 888.0,140.5 890.0,148.8 C892.0,157.1 892.8,164.8 894.0,175.0 C895.2,185.2 896.0,195.8 897.0,210.0 C898.0,224.2 899.0,241.7 900.0,260.0 C901.0,278.3 901.9,299.7 903.0,320.0 C904.1,340.3 905.5,377.8 906.5,382.0 C907.5,382.0 907.9,358.7 909.0,345.0 C910.1,331.3 911.7,315.8 913.0,300.0 C914.3,284.2 915.7,265.0 917.0,250.0 C918.3,235.0 919.9,217.8 920.9,210.0 C921.9,203.0 921.9,208.3 923.0,203.0 C924.1,197.7 925.9,185.2 927.8,178.0 C929.7,170.8 932.3,165.1 934.6,159.8 C936.9,154.5 939.2,149.8 941.5,146.0 C943.8,142.2 945.4,140.3 948.4,136.9 C951.4,133.5 955.6,130.1 959.8,125.5 C964.0,120.9 968.2,114.1 973.5,109.5 C978.8,104.9 985.7,101.0 991.8,98.0 C997.9,95.0 1004.7,93.1 1010.0,91.2 C1015.3,89.3 1020.0,87.0 1023.8,86.6 C1027.6,86.6 1029.6,87.4 1033.0,88.9 C1036.4,90.4 1040.6,92.3 1044.4,95.7 C1048.2,99.1 1052.5,104.5 1055.9,109.5 C1059.3,114.5 1062.4,119.8 1065.0,125.5 C1067.6,131.2 1070.0,138.9 1071.7,144.0 C1073.4,149.1 1073.8,152.1 1075.0,156.0 C1076.2,159.9 1077.7,163.4 1079.0,167.6 C1080.3,171.8 1081.5,176.8 1083.0,181.0 C1084.5,185.2 1086.0,189.9 1087.7,192.7 C1089.4,195.4 1091.1,196.8 1093.0,197.5 C1094.9,197.5 1097.5,197.5 1099.0,197.0 C1100.5,194.6 1100.8,187.5 1102.0,183.0 C1103.2,178.5 1104.7,173.3 1106.0,170.0 C1107.3,166.7 1108.2,165.8 1110.0,163.0 C1111.8,160.2 1114.3,155.7 1116.6,153.0 C1118.9,150.3 1120.9,148.7 1124.0,147.0 C1127.1,145.3 1131.0,143.8 1135.0,143.0 C1139.0,142.2 1143.8,142.0 1148.0,142.0 C1152.2,142.3 1156.7,143.7 1160.0,145.0 C1163.3,146.3 1166.7,149.2 1168.0,150.0" fill="none" stroke="#000" stroke-width="6.1" stroke-dasharray="10 10.4" stroke-linecap="round" stroke-linejoin="round"/>
<path d="M139.0,25.0 C140.0,24.3 143.2,21.5 145.0,21.0 C146.8,21.0 148.3,21.0 150.0,22.0 C151.7,23.0 153.3,27.0 155.0,27.0 C156.7,27.0 158.3,23.2 160.0,22.0 C161.7,20.8 163.2,20.0 165.0,20.0 C166.8,21.0 169.0,27.2 171.0,28.0 C173.0,28.0 175.3,26.0 177.0,25.0 C178.7,24.0 179.8,22.0 181.0,22.0 C182.2,27.8 183.2,40.3 184.0,60.0 C184.8,79.7 185.2,116.0 186.0,140.0 C186.8,164.0 187.7,204.0 188.5,204.0 C189.3,204.0 190.1,164.0 191.0,140.0 C191.9,116.0 192.8,79.2 194.0,60.0 C195.2,40.8 196.3,31.8 198.0,25.0 C199.7,19.0 202.0,19.8 204.0,19.0 C206.0,19.0 208.3,19.0 210.0,20.0 C211.7,23.5 212.8,23.3 214.0,40.0 C215.2,56.7 215.9,94.3 217.0,120.0 C218.1,145.7 219.5,194.0 220.5,194.0 C221.5,194.0 222.1,143.2 223.0,120.0 C223.9,96.8 225.0,70.3 226.0,55.0 C227.0,39.7 227.8,33.8 229.0,28.0 C230.2,22.2 231.5,20.2 233.0,20.0 C234.5,20.0 236.0,24.0 238.0,27.0 C240.0,30.0 242.7,34.2 245.0,38.0 C247.3,41.8 249.8,46.0 252.0,50.0 C254.2,54.0 256.0,57.8 258.0,62.0 C260.0,66.2 262.2,70.7 264.0,75.0 C265.8,79.3 267.3,84.2 269.0,88.0 C270.7,91.8 272.5,95.0 274.0,98.0 C275.5,101.0 277.0,103.2 278.0,106.0 C279.0,108.8 279.4,111.8 280.0,115.0 C280.6,118.2 281.0,121.7 281.5,125.0 C282.0,128.3 282.2,132.0 283.0,135.0 C283.8,138.0 284.9,140.2 286.0,143.0 C287.1,145.8 288.5,148.8 289.5,152.0 C290.5,155.2 291.2,158.7 292.0,162.0 C292.8,165.3 293.3,168.2 294.0,172.0 C294.7,175.8 295.5,177.0 296.0,185.0 C296.5,193.0 296.8,207.5 297.0,220.0 C297.2,232.5 297.2,241.7 297.5,260.0 C297.8,278.3 298.6,315.8 299.0,330.0 C299.4,344.2 299.5,345.0 300.0,345.0 C300.5,340.0 301.3,319.2 302.0,300.0 C302.7,280.8 303.3,251.7 304.0,230.0 C304.7,208.3 305.2,187.5 306.0,170.0 C306.8,152.5 307.9,135.0 308.6,125.0 C309.4,115.0 309.8,112.8 310.5,110.0 C311.2,108.0 312.1,108.0 313.0,108.0 C313.9,108.3 315.1,108.3 316.0,112.0 C316.9,115.7 317.8,120.3 318.6,130.0 C319.4,139.7 320.1,156.7 321.0,170.0 C321.9,183.3 322.8,198.3 324.0,210.0 C325.2,221.7 326.5,231.3 328.0,240.0 C329.5,248.7 331.3,254.0 333.0,262.0 C334.7,270.0 336.7,285.8 338.0,288.0 C339.3,288.0 339.8,283.0 341.0,275.0 C342.2,267.0 343.8,244.2 345.0,240.0 C346.2,240.0 347.2,241.7 348.0,250.0 C348.8,258.3 349.3,276.7 350.0,290.0 C350.7,303.3 351.5,318.0 352.0,330.0 C352.5,342.0 352.6,362.0 353.0,362.0 C353.4,360.3 354.0,335.3 354.5,320.0 C355.0,304.7 355.4,283.3 356.0,270.0 C356.6,256.7 357.3,241.7 358.0,240.0 C358.7,240.0 359.3,246.7 360.0,260.0 C360.7,273.3 361.3,300.0 362.0,320.0 C362.7,340.0 363.6,365.0 364.0,380.0 C364.4,395.0 364.2,410.0 364.5,410.0 C364.8,401.7 365.2,356.7 365.5,330.0 C365.8,303.3 365.8,275.0 366.0,250.0 C366.2,225.0 366.3,197.2 366.5,180.0 C366.7,162.8 366.6,149.7 367.3,147.0 C368.0,147.0 369.7,155.3 370.9,164.0 C372.1,172.7 373.2,190.0 374.4,199.0 C375.6,208.0 376.4,212.0 378.0,218.0 C379.6,224.0 381.3,229.7 384.0,235.0 C386.7,240.3 391.2,246.8 394.0,250.0 C396.8,253.2 399.0,250.8 401.0,254.0 C403.0,257.2 404.5,263.3 406.0,269.0 C407.5,274.7 408.5,281.2 410.0,288.0 C411.5,294.8 413.3,301.3 415.0,310.0 C416.7,318.7 418.5,332.0 420.0,340.0 C421.5,348.0 422.7,354.3 424.0,358.0 C425.3,361.7 426.7,362.0 428.0,362.0 C429.3,360.7 430.7,356.2 432.0,350.0 C433.3,343.8 434.7,335.8 436.0,325.0 C437.3,314.2 438.5,299.2 440.0,285.0 C441.5,270.8 443.3,251.8 445.0,240.0 C446.7,228.2 448.3,220.7 450.0,214.0 C451.7,207.3 453.3,205.7 455.0,200.0 C456.7,194.3 458.3,185.4 460.0,180.0 C461.7,174.6 463.0,168.4 465.1,167.6 C467.2,167.6 470.5,169.6 472.6,175.0 C474.7,180.4 476.0,190.8 477.7,200.0 C479.4,209.2 481.0,219.5 482.7,230.0 C484.4,240.5 486.0,252.0 487.7,263.0 C489.4,274.0 491.0,286.3 492.7,296.0 C494.4,305.7 496.1,314.2 497.7,321.0 C499.2,327.8 500.6,333.0 502.0,337.0 C503.4,341.0 504.8,344.8 506.0,345.0 C507.2,345.0 507.8,342.2 509.0,338.0 C510.2,333.8 511.3,326.3 513.0,320.0 C514.7,313.7 517.1,305.7 519.0,300.0 C520.9,294.3 522.2,291.0 524.6,286.0 C527.0,281.0 530.3,274.1 533.5,270.0 C536.7,265.9 540.2,261.5 543.6,261.5 C547.0,261.9 550.5,268.9 553.6,272.6 C556.8,276.4 560.3,280.6 562.5,284.0 C564.7,287.4 565.8,290.0 567.0,293.0 C568.2,296.0 568.8,301.7 570.0,302.0 C571.2,302.0 572.8,302.0 574.0,295.0 C575.2,288.0 576.0,272.5 577.0,260.0 C578.0,247.5 579.0,233.3 580.0,220.0 C581.0,206.7 581.9,190.3 583.0,180.0 C584.1,169.7 585.3,163.0 586.6,158.0 C587.9,153.0 589.1,152.1 591.0,150.0 C592.9,147.9 595.5,147.4 597.7,145.3 C599.9,143.2 601.0,139.8 604.3,137.6 C607.6,135.4 612.8,133.7 617.6,132.0 C622.4,130.3 628.8,128.3 633.2,127.6 C637.7,127.6 641.0,127.6 644.3,127.6 C647.6,128.3 650.5,129.4 653.1,132.0 C655.7,134.6 657.6,140.2 659.8,143.0 C662.0,145.8 664.2,148.7 666.4,148.7 C668.6,148.0 670.8,143.3 673.0,138.7 C675.2,134.1 677.5,125.2 679.7,121.0 C681.9,116.8 683.8,114.7 686.4,113.2 C689.0,112.0 692.4,112.0 695.3,112.0 C698.2,112.5 701.4,114.2 704.0,116.5 C706.6,118.8 708.8,123.4 710.8,126.0 C712.8,128.6 714.3,131.2 716.0,132.0 C717.7,132.0 719.3,132.0 721.0,131.0 C722.7,128.8 724.3,121.1 726.3,118.7 C728.3,116.5 730.4,116.5 733.0,116.5 C735.6,116.5 738.5,116.9 741.8,118.7 C745.1,120.5 749.2,124.3 752.9,127.6 C756.6,130.9 760.7,135.0 764.0,138.7 C767.3,142.4 769.9,146.1 772.9,149.8 C775.9,153.5 778.8,156.8 781.7,160.9 C784.7,165.0 787.6,169.8 790.6,174.2 C793.6,178.6 796.9,184.2 799.5,187.5 C802.1,190.8 803.4,192.6 806.0,194.0 C808.6,195.4 812.3,196.0 815.0,196.0 C817.7,195.3 818.9,193.6 822.0,190.0 C825.1,186.4 829.3,181.1 833.5,174.2 C837.7,167.3 843.1,157.3 847.2,148.8 C851.3,140.3 854.8,124.4 858.0,123.4 C861.2,123.4 863.8,134.2 866.7,143.0 C869.6,151.8 872.6,173.9 875.5,176.2 C878.4,176.2 880.9,162.8 884.3,156.6 C887.7,150.4 891.8,143.6 896.0,139.0 C900.2,134.4 905.7,130.2 909.5,128.9 C913.3,128.9 915.2,129.3 918.6,131.2 C922.0,133.1 926.2,137.6 930.0,140.3 C933.8,143.0 937.7,146.4 941.5,147.2 C945.3,147.2 949.2,147.1 953.0,145.0 C956.8,142.9 960.2,138.6 964.4,134.6 C968.6,130.6 972.7,125.1 978.0,120.9 C983.3,116.7 991.1,113.1 996.4,109.5 C1001.7,105.9 1005.4,102.5 1010.0,99.2 C1014.6,96.0 1019.2,92.5 1023.8,90.0 C1028.4,87.5 1033.0,85.0 1037.6,84.3 C1042.2,84.3 1046.7,84.3 1051.3,85.5 C1055.9,86.8 1060.4,89.1 1065.0,92.3 C1069.6,95.5 1074.1,99.8 1078.7,104.9 C1083.3,110.1 1088.3,117.7 1092.5,123.2 C1096.7,128.7 1100.5,135.2 1103.9,138.0 C1107.3,140.3 1109.6,140.3 1113.0,140.3 C1116.4,139.7 1120.3,136.3 1124.5,134.6 C1128.7,132.9 1133.6,130.0 1138.2,130.0 C1142.8,130.0 1147.8,132.3 1152.0,134.6 C1156.2,136.9 1160.7,141.6 1163.4,143.8 C1166.1,146.0 1167.2,147.3 1168.0,148.0" fill="none" stroke="#000" stroke-width="6.1" stroke-linecap="round" stroke-linejoin="round"/>
</g>
</svg>
</body></html>
